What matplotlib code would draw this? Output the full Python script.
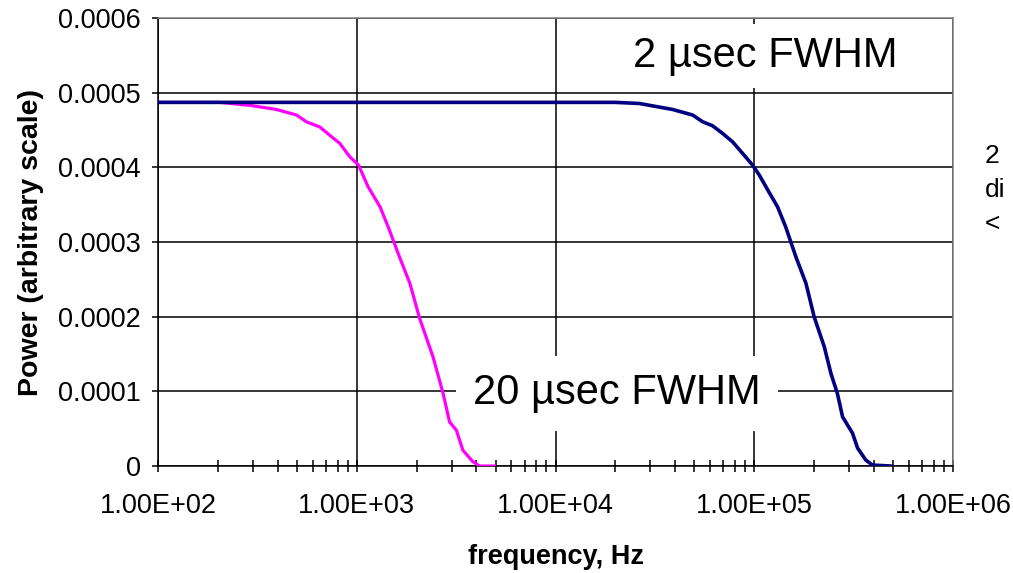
import matplotlib
matplotlib.use("Agg")
import matplotlib.pyplot as plt
from matplotlib.ticker import LogLocator, NullFormatter

plt.rcParams['font.family'] = ['Liberation Sans', 'DejaVu Sans']

# 2 usec FWHM pulse spectrum (navy)
freq_2us = [1.0e2, 2.0e4, 2.64e4, 3.88e4, 4.9e4, 5.5e4, 6.17e4, 6.93e4, 7.78e4,
            8.74e4, 9.8e4, 1.06e5, 1.17e5, 1.31e5, 1.44e5, 1.62e5, 1.82e5, 2.0e5,
            2.25e5, 2.43e5, 2.62e5, 2.78e5, 3.12e5, 3.31e5, 3.64e5, 3.93e5, 4.86e5]
power_2us = [4.87e-4, 4.87e-4, 4.855e-4, 4.775e-4, 4.70e-4, 4.61e-4, 4.556e-4, 4.454e-4,
             4.341e-4, 4.186e-4, 4.03e-4, 3.896e-4, 3.695e-4, 3.47e-4, 3.20e-4, 2.80e-4,
             2.446e-4, 2.0e-4, 1.597e-4, 1.24e-4, 9.7e-5, 6.6e-5, 4.4e-5, 2.4e-5, 8e-6,
             1.3e-6, 0.0]

# 20 usec FWHM pulse spectrum (magenta)
freq_20us = [1.0e2, 2.05e2, 2.9e2, 3.94e2, 4.98e2, 5.58e2, 6.52e2, 7.31e2, 8.22e2,
             9.23e2, 1.02e3, 1.14e3, 1.31e3, 1.44e3, 1.64e3, 1.85e3, 2.07e3, 2.42e3,
             2.72e3, 2.93e3, 3.17e3, 3.42e3, 3.84e3, 4.15e3, 4.93e3]
power_20us = [4.87e-4, 4.87e-4, 4.83e-4, 4.775e-4, 4.70e-4, 4.61e-4, 4.54e-4, 4.43e-4,
              4.32e-4, 4.14e-4, 4.03e-4, 3.74e-4, 3.47e-4, 3.20e-4, 2.80e-4, 2.446e-4,
              1.98e-4, 1.46e-4, 9.7e-5, 5.9e-5, 4.8e-5, 2.1e-5, 5.8e-6, 0.0, 0.0]

xticks = [1e2, 1e3, 1e4, 1e5, 1e6]
xtick_labels = ["1.00E+02", "1.00E+03", "1.00E+04", "1.00E+05", "1.00E+06"]
yticks = [0, 0.0001, 0.0002, 0.0003, 0.0004, 0.0005, 0.0006]
ytick_labels = ["0", "0.0001", "0.0002", "0.0003", "0.0004", "0.0005", "0.0006"]

label_2us = "2 \u00b5sec FWHM"
label_20us = "20 \u00b5sec FWHM"
side_lines = ["2", "di", "<"]

fig = plt.figure(figsize=(10.13, 5.73), dpi=100)
ax = fig.add_axes([0.156, 0.1867, 0.7848, 0.7819])

ax.plot(freq_20us, power_20us, color="#ff00ff", lw=2.3, zorder=3)
ax.plot(freq_2us, power_2us, color="#000080", lw=2.6, zorder=3)

ax.set_xscale("log")
ax.set_xlim(1e2, 1e6)
ax.set_ylim(0, 0.0006)
ax.set_xticks(xticks, labels=xtick_labels)
ax.set_yticks(yticks, labels=ytick_labels)
ax.xaxis.set_minor_locator(LogLocator(base=10, subs=range(2, 10)))
ax.xaxis.set_minor_formatter(NullFormatter())

ax.grid(True, which="major", color="black", lw=1.1)
ax.tick_params(axis="x", which="major", direction="inout", length=9, width=1.1,
               labelsize=19.5, pad=15)
ax.tick_params(axis="x", which="minor", direction="inout", length=8, width=1.1)
ax.tick_params(axis="y", which="major", direction="out", length=4.5, width=1.1,
               labelsize=19.5, pad=8)

for side in ["left", "bottom"]:
    ax.spines[side].set_color("black")
    ax.spines[side].set_linewidth(1.1)
for side in ["top", "right"]:
    ax.spines[side].set_color("#808080")
    ax.spines[side].set_linewidth(1.1)

ax.set_xlabel("frequency, Hz", fontsize=19.5, fontweight="bold", labelpad=18)
ax.set_ylabel("Power (arbitrary scale)", fontsize=20.5, fontweight="bold", labelpad=10)

ax.text(1.13e5, 0.000549, label_2us, fontsize=30, ha="center", va="center",
        bbox=dict(boxstyle="square,pad=0.28", facecolor="white", edgecolor="none"),
        zorder=2.2)
ax.text(2.04e4, 0.0000975, label_20us, fontsize=30, ha="center", va="center",
        bbox=dict(boxstyle="square,pad=0.42", facecolor="white", edgecolor="none"),
        zorder=2.2)

for i, s in enumerate(side_lines):
    fig.text(985 / 1013, 1 - (156 + 34 * i) / 573, s, fontsize=19, ha="left", va="center")

fig.savefig("out.png", dpi=100)
